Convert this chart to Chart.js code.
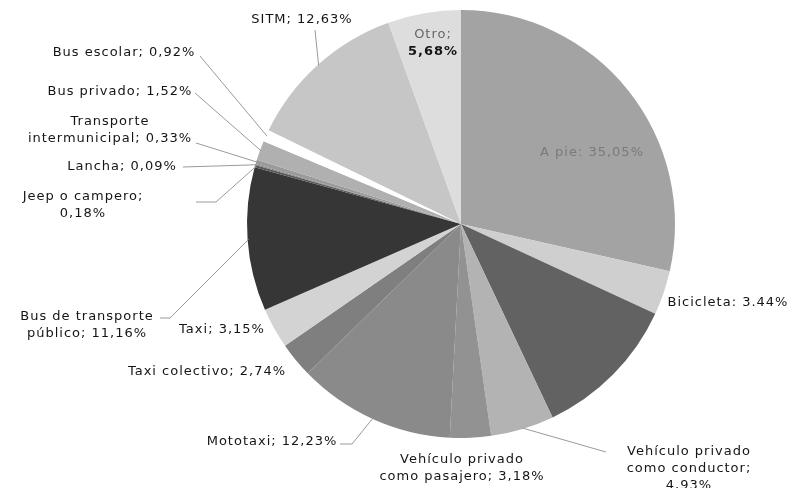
<!DOCTYPE html>
<html>
<head>
<meta charset="utf-8">
<script src="https://cdn.jsdelivr.net/npm/chart.js@4"></script>
<style>
  body { margin: 0; background: #fff; }
</style>
</head>
<body>
<canvas id="myChart" width="792" height="488"></canvas>
<script>
// categorías en el orden del gráfico (horario desde arriba)
const categories = [
    'A pie', 'Bicicleta', '', 'Vehículo privado como conductor',
    'Vehículo privado como pasajero', 'Mototaxi', 'Taxi colectivo', 'Taxi',
    'Bus de transporte público', 'Jeep o campero', 'Lancha',
    'Transporte intermunicipal', 'Bus privado', 'Bus escolar', 'SITM', 'Otro'
];
// porcentajes impresos en las etiquetas
const shares = [
    '35,05%', '3.44%', null, '4,93%', '3,18%', '12,23%', '2,74%', '3,15%',
    '11,16%', '0,18%', '0,09%', '0,33%', '1,52%', '0,92%', '12,63%', '5,68%'
];
// tamaño de cada porción tal como se ve
const values = [
    29.4, 3.44, 11.4, 4.93, 3.18, 12.23, 2.74, 3.15,
    11.16, 0.18, 0.09, 0.33, 1.52, 0.92, 12.63, 5.68
];

const sliceColors = [
    '#a3a3a3', '#cfcfcf', '#626262', '#b3b3b3', '#929292', '#8a8a8a', '#7f7f7f', '#d3d3d3',
    '#363636', '#5a5a5a', '#808080', '#9a9a9a', '#b0b0b0', '#ffffff', '#c6c6c6', '#dddddd'
];

// posiciones de las etiquetas puestas a mano (como en el original)
const labelLayout = [
    { lines: ['A pie: ' + shares[0]], x: 592, y: 153, color: '#7a7a7a' },
    { lines: ['Bicicleta: ' + shares[1]], x: 728, y: 303 },
    null,
    { lines: ['Vehículo privado', 'como conductor;', shares[3]], x: 689, y: 452, lead: [[606, 452]] },
    { lines: ['Vehículo privado', 'como pasajero; ' + shares[4]], x: 462, y: 460 },
    { lines: ['Mototaxi; ' + shares[5]], x: 272, y: 442, lead: [[340, 444], [352, 444]] },
    { lines: ['Taxi colectivo; ' + shares[6]], x: 207, y: 372 },
    { lines: ['Taxi; ' + shares[7]], x: 222, y: 330 },
    { lines: ['Bus de transporte', 'público; ' + shares[8]], x: 87, y: 317, lead: [[160, 318], [170, 318]] },
    { lines: ['Jeep o campero;', shares[9]], x: 83, y: 197, lead: [[196, 202], [216, 202]] },
    { lines: ['Lancha; ' + shares[10]], x: 122, y: 167, lead: [[183, 167]] },
    { lines: ['Transporte', 'intermunicipal; ' + shares[11]], x: 110, y: 122, lead: [[196, 143]] },
    { lines: ['Bus privado; ' + shares[12]], x: 120, y: 92, lead: [[195, 93]] },
    { lines: ['Bus escolar; ' + shares[13]], x: 124, y: 53, lead: [[200, 56]] },
    { lines: ['SITM; ' + shares[14]], x: 302, y: 20, lead: [[315, 30]] },
    { lines: ['Otro;', shares[15]], x: 433, y: 35, bold2: true }
];

const FONT = '"DejaVu Sans", sans-serif';

const labelPlugin = {
    id: 'manualLabels',
    afterDraw(chart) {
        const ctx = chart.ctx;
        const arcs = chart.getDatasetMeta(0).data;
        ctx.save();
        labelLayout.forEach((lab, i) => {
            if (!lab) return;
            const a = arcs[i].getProps(['x', 'y', 'startAngle', 'endAngle', 'outerRadius'], true);
            const mid = (a.startAngle + a.endAngle) / 2;
            if (lab.lead) {
                const ax = a.x + Math.cos(mid) * (a.outerRadius - 1);
                const ay = a.y + Math.sin(mid) * (a.outerRadius - 1);
                ctx.strokeStyle = '#9a9a9a';
                ctx.lineWidth = 1;
                ctx.beginPath();
                ctx.moveTo(lab.lead[0][0], lab.lead[0][1]);
                lab.lead.slice(1).forEach(p => ctx.lineTo(p[0], p[1]));
                ctx.lineTo(ax, ay);
                ctx.stroke();
            }
            ctx.textAlign = 'center';
            ctx.textBaseline = 'middle';
            ctx.letterSpacing = '1px';
            lab.lines.forEach((t, k) => {
                const bold = lab.bold2 && k === 1;
                ctx.font = (bold ? 'bold ' : '') + '13px ' + FONT;
                ctx.fillStyle = lab.color || (lab.bold2 && k === 0 ? '#666' : '#151515');
                ctx.fillText(t, lab.x, lab.y + k * 17);
            });
        });
        ctx.restore();
    }
};

new Chart(document.getElementById('myChart').getContext('2d'), {
    type: 'pie',
    data: {
        labels: categories,
        datasets: [{
            data: values,
            backgroundColor: sliceColors,
            borderWidth: 0
        }]
    },
    options: {
        responsive: false,
        animation: false,
        layout: { padding: { top: 10, bottom: 50, left: 247, right: 117 } },
        plugins: {
            legend: { display: false },
            tooltip: { enabled: false }
        }
    },
    plugins: [labelPlugin]
});
</script>
</body>
</html>
